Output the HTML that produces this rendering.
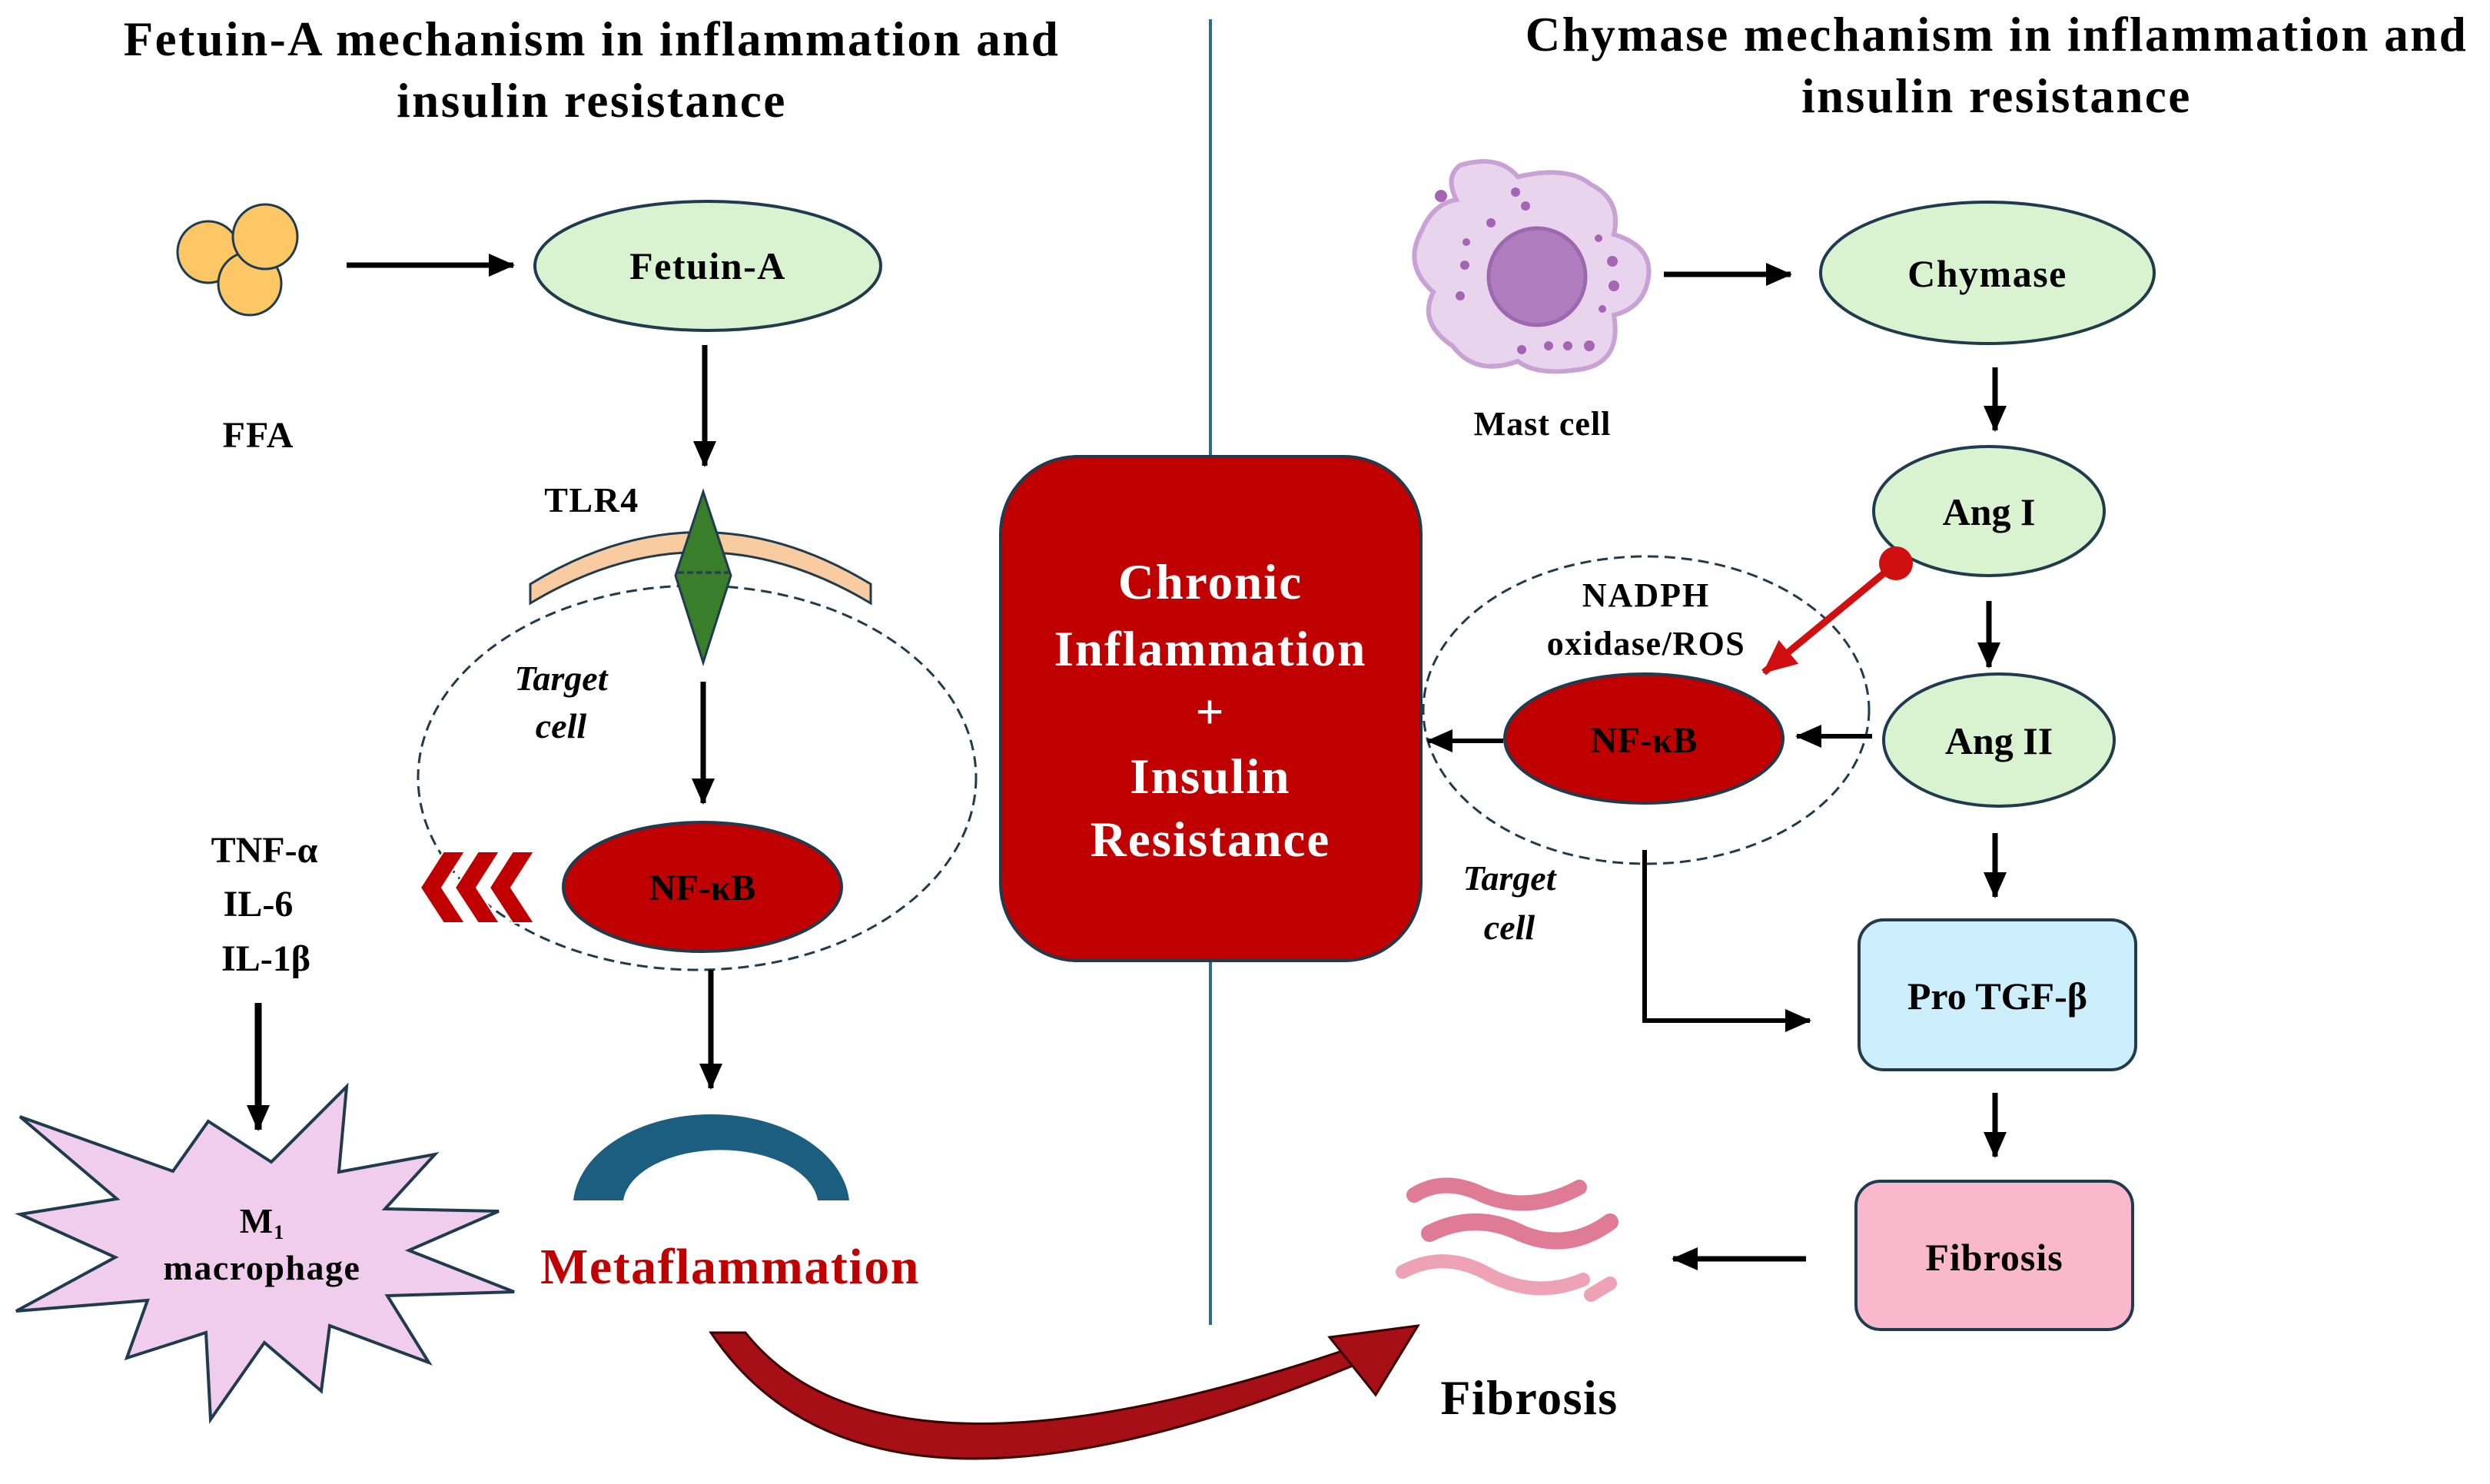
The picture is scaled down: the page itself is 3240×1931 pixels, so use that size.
<!DOCTYPE html>
<html><head><meta charset="utf-8"><style>
html,body{margin:0;padding:0;background:#fff}
svg{display:block}
text{font-family:"Liberation Serif",serif;font-weight:bold}
</style></head><body>
<svg width="3240" height="1931" viewBox="0 0 3240 1931" xmlns="http://www.w3.org/2000/svg">
<defs>
<marker id="ah" markerWidth="34" markerHeight="30" refX="32" refY="15" orient="auto" markerUnits="userSpaceOnUse">
<path d="M0,0 L34,15 L0,30 Z" fill="#000"/></marker>
<marker id="ahr" markerWidth="44" markerHeight="40" refX="42" refY="20" orient="auto" markerUnits="userSpaceOnUse">
<path d="M0,0 L44,20 L0,40 Z" fill="#d01010"/></marker>
</defs>

<text x="770" y="72" font-size="63" text-anchor="middle" letter-spacing="2.5">Fetuin-A mechanism in inflammation and</text>
<text x="770" y="152" font-size="63" text-anchor="middle" letter-spacing="2.5">insulin resistance</text>
<text x="2598" y="66" font-size="63" text-anchor="middle" letter-spacing="2.5">Chymase mechanism in inflammation and</text>
<text x="2598" y="146" font-size="63" text-anchor="middle" letter-spacing="2.5">insulin resistance</text>

<line x1="1575" y1="25" x2="1575" y2="1724" stroke="#2e6b8e" stroke-width="4"/>

<circle cx="271" cy="328" r="40" fill="#fdc766" stroke="#1f3b4d" stroke-width="3"/>
<circle cx="325" cy="369" r="41" fill="#fdc766" stroke="#1f3b4d" stroke-width="3"/>
<circle cx="345" cy="308" r="42" fill="#fdc766" stroke="#1f3b4d" stroke-width="3"/>
<text x="336" y="582" font-size="48" text-anchor="middle" letter-spacing="1">FFA</text>
<line x1="451" y1="345" x2="668" y2="345" stroke="#000" stroke-width="7" marker-end="url(#ah)"/>

<ellipse cx="921" cy="346" rx="225" ry="84" fill="#d9f2d0" stroke="#1f3b4d" stroke-width="4"/>
<text x="921" y="363" font-size="50" text-anchor="middle" letter-spacing="1.5">Fetuin-A</text>
<line x1="917" y1="449" x2="917" y2="606" stroke="#000" stroke-width="7" marker-end="url(#ah)"/>

<text x="770" y="666" font-size="46" text-anchor="middle" letter-spacing="1.5">TLR4</text>

<ellipse cx="907" cy="1012" rx="363" ry="250" fill="none" stroke="#1f3b4d" stroke-width="3" stroke-dasharray="14,8"/>
<path d="M690,785 Q911,652 1133,785 L1133,760 Q911,625 690,760 Z" fill="#f8cba0" stroke="#1f3b4d" stroke-width="3"/>
<polygon points="915,640 951,749 915,862 879,749" fill="#3a7d2a" stroke="#1f3b4d" stroke-width="3"/>
<line x1="882" y1="745" x2="948" y2="745" stroke="#1f3b4d" stroke-width="3" stroke-dasharray="8,4"/>
<text x="730" y="898" font-size="46" text-anchor="middle" font-style="italic">Target</text>
<text x="730" y="960" font-size="46" text-anchor="middle" font-style="italic">cell</text>
<line x1="915" y1="887" x2="915" y2="1045" stroke="#000" stroke-width="7" marker-end="url(#ah)"/>
<ellipse cx="914" cy="1154" rx="181" ry="84" fill="#c00000" stroke="#1f3b4d" stroke-width="4"/>
<text x="914" y="1171" font-size="48" text-anchor="middle">NF-κB</text>

<g fill="#c00000" stroke="#fff" stroke-width="2">
<polygon points="547,1155 577,1108 605,1108 575,1155 605,1201 577,1201"/>
<polygon points="592,1155 622,1108 650,1108 620,1155 650,1201 622,1201"/>
<polygon points="637,1155 667,1108 695,1108 665,1155 695,1201 667,1201"/>
</g>

<text x="344" y="1122" font-size="48" text-anchor="middle">TNF-α</text>
<text x="336" y="1192" font-size="48" text-anchor="middle">IL-6</text>
<text x="346" y="1263" font-size="48" text-anchor="middle">IL-1β</text>

<polygon points="271,1459 353,1512 451,1414 441,1525 566,1502 501,1573 649,1576 532,1627 669,1681 504,1686 558,1773 429,1725 418,1810 344,1747 274,1847 268,1734 165,1767 192,1692 21,1706 150,1636 26,1580 152,1560 26,1453 225,1524" fill="#f0cdec" stroke="#1f3b4d" stroke-width="4"/>
<line x1="336" y1="1305" x2="336" y2="1470" stroke="#000" stroke-width="9" marker-end="url(#ah)"/>
<text x="341" y="1604" font-size="46" text-anchor="middle" letter-spacing="1">M<tspan font-size="26" dy="8">1</tspan></text>
<text x="341" y="1665" font-size="46" text-anchor="middle" letter-spacing="1.5">macrophage</text>

<line x1="925" y1="1262" x2="925" y2="1416" stroke="#000" stroke-width="7" marker-end="url(#ah)"/>
<path d="M746,1562 A180,121 0 0 1 1105,1562 L1064,1562 A127,72 0 0 0 811,1562 Z" fill="#1b5e80"/>
<text x="950" y="1670" font-size="66" text-anchor="middle" fill="#c00000" letter-spacing="1.5">Metaflammation</text>

<path d="M925,1734 Q1130,2040 1765,1775 L1755,1755 Q1150,1960 970,1734 Z" fill="#a50f15" stroke="#3a0000" stroke-width="3"/>
<polygon points="1730,1740 1845,1725 1790,1815" fill="#a50f15" stroke="#3a0000" stroke-width="3"/>

<rect x="1302" y="594" width="547" height="656" rx="100" fill="#c00000" stroke="#1f3b4d" stroke-width="4"/>
<g fill="#fff" font-size="65" text-anchor="middle" letter-spacing="2">
<text x="1575" y="779">Chronic</text>
<text x="1575" y="866">Inflammation</text>
<text x="1575" y="948">+</text>
<text x="1575" y="1032">Insulin</text>
<text x="1575" y="1114">Resistance</text>
</g>

<path d="M1900,215 Q1950,200 1975,230 Q2040,215 2070,240 Q2110,260 2100,305 Q2150,320 2145,360 Q2140,400 2100,410 Q2110,470 2060,480 Q2000,490 1975,470 Q1920,490 1890,450 Q1845,420 1865,380 Q1825,345 1850,300 Q1865,265 1895,260 Q1880,230 1900,215 Z" fill="#e9d4ee" stroke="#c8a2d4" stroke-width="6"/>
<circle cx="2000" cy="360" r="63" fill="#b07cc0" stroke="#9c68ae" stroke-width="5"/>
<g fill="#a565b5">
<circle cx="1875" cy="255" r="8"/><circle cx="1972" cy="250" r="6"/><circle cx="1985" cy="268" r="6"/>
<circle cx="1940" cy="290" r="6"/><circle cx="1908" cy="315" r="5"/><circle cx="1906" cy="345" r="6"/>
<circle cx="1900" cy="385" r="6"/><circle cx="2098" cy="340" r="7"/><circle cx="2100" cy="372" r="7"/>
<circle cx="2085" cy="402" r="5"/><circle cx="1980" cy="455" r="6"/><circle cx="2015" cy="450" r="6"/>
<circle cx="2040" cy="450" r="6"/><circle cx="2068" cy="450" r="7"/><circle cx="2080" cy="310" r="5"/>
</g>
<text x="2007" y="566" font-size="44" text-anchor="middle" letter-spacing="1">Mast cell</text>
<line x1="2165" y1="357" x2="2330" y2="357" stroke="#000" stroke-width="7" marker-end="url(#ah)"/>

<ellipse cx="2586" cy="355" rx="217" ry="92" fill="#d9f2d0" stroke="#1f3b4d" stroke-width="4"/>
<text x="2586" y="373" font-size="50" text-anchor="middle" letter-spacing="1.5">Chymase</text>
<line x1="2596" y1="478" x2="2596" y2="560" stroke="#000" stroke-width="7" marker-end="url(#ah)"/>
<ellipse cx="2588" cy="665" rx="150" ry="84" fill="#d9f2d0" stroke="#1f3b4d" stroke-width="4"/>
<text x="2588" y="683" font-size="50" text-anchor="middle">Ang I</text>
<line x1="2588" y1="782" x2="2588" y2="868" stroke="#000" stroke-width="7" marker-end="url(#ah)"/>
<ellipse cx="2601" cy="963" rx="150" ry="86" fill="#d9f2d0" stroke="#1f3b4d" stroke-width="4"/>
<text x="2601" y="981" font-size="50" text-anchor="middle">Ang II</text>
<line x1="2596" y1="1084" x2="2596" y2="1167" stroke="#000" stroke-width="7" marker-end="url(#ah)"/>

<ellipse cx="2142" cy="924" rx="290" ry="200" fill="none" stroke="#1f3b4d" stroke-width="3" stroke-dasharray="14,8"/>
<text x="2142" y="789" font-size="44" text-anchor="middle" letter-spacing="2">NADPH</text>
<text x="2142" y="852" font-size="44" text-anchor="middle" letter-spacing="1.5">oxidase/ROS</text>
<line x1="2467" y1="733" x2="2295" y2="875" stroke="#d01010" stroke-width="9" marker-end="url(#ahr)"/>
<circle cx="2467" cy="733" r="22" fill="#d01010"/>
<ellipse cx="2139" cy="961" rx="181" ry="84" fill="#c00000" stroke="#1f3b4d" stroke-width="4"/>
<text x="2139" y="979" font-size="48" text-anchor="middle">NF-κB</text>
<line x1="1956" y1="964" x2="1858" y2="964" stroke="#000" stroke-width="6" marker-end="url(#ah)"/>
<line x1="2436" y1="958" x2="2338" y2="958" stroke="#000" stroke-width="6" marker-end="url(#ah)"/>
<text x="1964" y="1158" font-size="46" text-anchor="middle" font-style="italic">Target</text>
<text x="1964" y="1222" font-size="46" text-anchor="middle" font-style="italic">cell</text>
<polyline points="2140,1106 2140,1328 2355,1328" fill="none" stroke="#000" stroke-width="6" marker-end="url(#ah)"/>

<rect x="2419" y="1197" width="360" height="195" rx="32" fill="#cdeefc" stroke="#1f3b4d" stroke-width="4"/>
<text x="2599" y="1313" font-size="50" text-anchor="middle">Pro TGF-β</text>
<line x1="2596" y1="1422" x2="2596" y2="1505" stroke="#000" stroke-width="7" marker-end="url(#ah)"/>
<rect x="2415" y="1537" width="360" height="193" rx="32" fill="#f9b8cc" stroke="#1f3b4d" stroke-width="4"/>
<text x="2595" y="1653" font-size="50" text-anchor="middle" letter-spacing="1">Fibrosis</text>
<line x1="2350" y1="1638" x2="2177" y2="1638" stroke="#000" stroke-width="7" marker-end="url(#ah)"/>

<g fill="none" stroke-linecap="round">
<path d="M1840,1555 Q1880,1530 1930,1555 Q1990,1580 2055,1545" stroke="#e07b96" stroke-width="20"/>
<path d="M1860,1605 Q1920,1575 1980,1605 Q2040,1630 2095,1590" stroke="#e07b96" stroke-width="22"/>
<path d="M1825,1655 Q1880,1625 1940,1660 Q2000,1690 2060,1665" stroke="#eea2b5" stroke-width="18"/>
<path d="M2070,1685 L2095,1670" stroke="#eea2b5" stroke-width="18"/>
</g>
<text x="1990" y="1840" font-size="64" text-anchor="middle" letter-spacing="1.5">Fibrosis</text>
</svg>
</body></html>
